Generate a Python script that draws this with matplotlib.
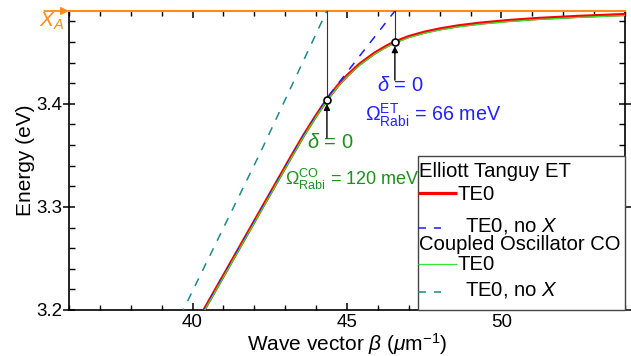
import numpy as np
import matplotlib
matplotlib.use('Agg')
import matplotlib.pyplot as plt
from matplotlib.patches import Rectangle
from matplotlib.ticker import MultipleLocator

plt.rcParams['font.family'] = ['Liberation Sans', 'DejaVu Sans']
plt.rcParams['mathtext.fontset'] = 'custom'
plt.rcParams['mathtext.rm'] = 'Liberation Sans'
plt.rcParams['mathtext.it'] = 'Liberation Sans:italic'

# polariton branch, Elliott Tanguy model (TE0)
beta_et = [40.3, 41.0, 42.0, 42.6, 43.2, 43.6, 44.0, 44.35, 44.7, 45.0, 45.4, 45.9, 46.3,
           46.55, 47.0, 47.5, 48.0, 48.6, 49.3, 50.2, 51.2, 52.5, 54.0]
E_et = [3.1963, 3.2332, 3.2859, 3.3175, 3.349, 3.3695, 3.3885, 3.404, 3.4175, 3.4272, 3.4383,
        3.4493, 3.4563, 3.46, 3.4652, 3.4694, 3.4726, 3.4756, 3.4782, 3.4807, 3.4828, 3.4848, 3.4866]
# polariton branch, coupled oscillator model (TE0)
E_co = [3.1950, 3.2319, 3.2846, 3.3162, 3.3477, 3.3683, 3.3874, 3.4030, 3.4165, 3.4262, 3.4373,
        3.4483, 3.4553, 3.4590, 3.4642, 3.4684, 3.4716, 3.4746, 3.4772, 3.4797, 3.4818, 3.4838, 3.4856]
# uncoupled photon modes
beta_et_nox = [40.3, 41.0, 42.0, 43.0, 43.6, 44.0, 44.4, 45.4, 46.55]
E_et_nox = [3.1963, 3.2332, 3.2859, 3.3385, 3.3695, 3.3885, 3.4075, 3.446, 3.490]
beta_co_nox = [39.6, 42.2, 44.4]
E_co_nox = [3.194, 3.353, 3.4935]

E_XA = 3.49
beta_delta0 = [44.35, 46.55]   # CO, ET

orange = '#ff8c1a'
green_txt = '#1f8f1f'
blue_txt = '#2222ff'
c_et, c_et_nox, c_co, c_co_nox = '#ff0000', '#1a1aff', '#33e633', '#1a8a8a'

W, H = 631, 356
AX_L, AX_R, AX_T, AX_B = 69, 625, 11, 310

fig = plt.figure(figsize=(W/100, H/100), dpi=100)
ax = fig.add_axes([AX_L/W, 1-AX_B/H, (AX_R-AX_L)/W, (AX_B-AX_T)/H])

def axfrac(px, py):  # pixel position -> axes fraction
    return (px-AX_L)/(AX_R-AX_L), (AX_B-py)/(AX_B-AX_T)

ax.plot(beta_et, E_et, color=c_et, lw=2.3, zorder=3)
ax.plot(beta_et_nox, E_et_nox, color=c_et_nox, lw=1.1, dashes=(5.5, 5.5), zorder=4)
ax.plot(beta_et, E_co, color=c_co, lw=0.9, zorder=5)
ax.plot(beta_co_nox, E_co_nox, color=c_co_nox, lw=1.1, dashes=(5.5, 5.5), zorder=4)

# detuning zero markers
for b in beta_delta0:
    e = np.interp(b, beta_et, E_et)
    ax.plot([b, b], [e, E_XA], color='#333333', lw=0.8, zorder=6, clip_on=False)
    ax.plot(b, e, 'o', ms=5, mfc='white', mec='black', mew=1.2, zorder=7)
    ax.annotate('', xy=(b, e - 0.004), xytext=(b, e - 0.037),
                arrowprops=dict(arrowstyle='-|>', color='black', lw=1.0,
                                mutation_scale=9, shrinkA=0, shrinkB=0), zorder=7)

ax.text(43.70, 3.362, r'$\delta$ = 0', color=green_txt, fontsize=14.5, va='center', ha='left')
ax.text(42.99, 3.327, r'$\Omega^{\mathrm{CO}}_{\mathrm{Rabi}}$ = 120 meV', color=green_txt,
        fontsize=13, va='center', ha='left')
ax.text(45.96, 3.418, r'$\delta$ = 0', color=blue_txt, fontsize=14.5, va='center', ha='left')
ax.text(45.58, 3.389, r'$\Omega^{\mathrm{ET}}_{\mathrm{Rabi}}$ = 66 meV', color=blue_txt,
        fontsize=14.2, va='center', ha='left')

# exciton line marker
ax.annotate('', xy=(36.0, E_XA), xytext=(35.2, E_XA), annotation_clip=False,
            arrowprops=dict(arrowstyle='-|>', color=orange, lw=1.3,
                            mutation_scale=11, shrinkA=0, shrinkB=0))
ax.text(35.03, 3.4905, r'$X_A$', color=orange, fontsize=15, ha='left', va='top')

ax.set_xlim(36, 54)
ax.set_ylim(3.2, E_XA)
ax.xaxis.set_major_locator(MultipleLocator(5))
ax.xaxis.set_minor_locator(MultipleLocator(1))
ax.yaxis.set_minor_locator(MultipleLocator(0.02))
ax.set_yticks([3.2, 3.3, 3.4])

for s in ['left', 'bottom', 'right']:
    ax.spines[s].set_linewidth(1.2)
ax.spines['top'].set_color(orange)
ax.spines['top'].set_linewidth(1.5)

ax.tick_params(axis='x', which='both', direction='in', top=True, labelsize=13.5, pad=3)
ax.tick_params(axis='x', which='major', length=5, width=1.1)
ax.tick_params(axis='x', which='minor', length=3.5, width=1.0)
ax.tick_params(axis='y', which='major', direction='inout', length=8, width=1.1, labelsize=13.5, pad=1)
ax.tick_params(axis='y', which='minor', direction='in', length=4, width=1.0)
ax.tick_params(axis='y', which='both', right=True)
for t in ax.xaxis.get_ticklines(minor=False)[1::2] + ax.xaxis.get_ticklines(minor=True)[1::2]:
    t.set_color(orange)

ax.set_xlabel(r'Wave vector $\beta$ ($\mu$m$^{-1}$)', fontsize=15, labelpad=0)
ax.set_ylabel('Energy (eV)', fontsize=15, labelpad=1)

# legend box with group headers
leg_fs = 14.6
x0, y0 = axfrac(418, 156)
ax.add_patch(Rectangle((x0, 0), 1 - x0, y0, transform=ax.transAxes, facecolor='white',
                       edgecolor='#444444', lw=1.0, zorder=8, clip_on=False))
rows = [  # label, baseline y px, text x px, line style
    ('Elliott Tanguy ET', 177, 419, None),
    ('TE0', 200, 457, (c_et, 2.3, None, 193)),
    ('TE0, no $X$', 231.5, 465, (c_et_nox, 1.1, (5.2, 5.2), 228)),
    ('Coupled Oscillator CO', 249.5, 419, None),
    ('TE0', 270, 457, (c_co, 0.9, None, 263.5)),
    ('TE0, no $X$', 295, 465, (c_co_nox, 1.1, (5.2, 5.2), 291.5)),
]
for label, yb, xt, style in rows:
    tx, ty = axfrac(xt, yb)
    ax.text(tx, ty, label, transform=ax.transAxes, fontsize=leg_fs, ha='left',
            va='baseline', zorder=9)
    if style is not None:
        col, lw, ds, yl = style
        hx0, hy = axfrac(418, yl)
        hx1, _ = axfrac(457 if ds is None else 441, yl)
        ln, = ax.plot([hx0, hx1], [hy, hy], transform=ax.transAxes, color=col, lw=lw,
                      zorder=9, clip_on=False, solid_capstyle='butt')
        if ds is not None:
            ln.set_dashes(ds)

fig.savefig('out.png', dpi=100)
